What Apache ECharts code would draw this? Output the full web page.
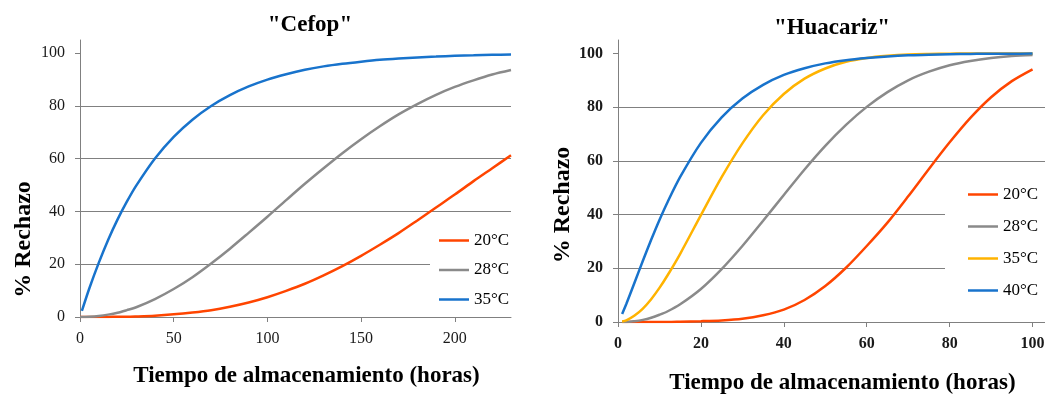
<!DOCTYPE html>
<html lang="es" style="height: 100%">
<head>
  <meta charset="utf-8">
</head>
<body style="height: 100%; margin: 0; background: #fff">
  <div id="container" style="width: 1045px; height: 394px"></div>

  <script type="text/javascript" src="https://cdn.jsdelivr.net/npm/echarts@6/dist/echarts.min.js"></script>
  <script type="text/javascript">
// "Cefop" (hours 0..230)
var cefopHours = [0, 1, 5, 10, 15, 20, 25, 30, 40, 50, 60, 70, 80, 90, 100, 110, 120, 130, 140, 150, 160, 170, 180, 190, 200, 210, 220, 230];
var cefop20 = [0, 0, 0, 0, 0, 0.1, 0.1, 0.2, 0.5, 1.0, 1.7, 2.6, 3.9, 5.5, 7.5, 9.9, 12.6, 15.8, 19.3, 23.2, 27.4, 31.8, 36.6, 41.5, 46.4, 51.5, 56.4, 61.3];
var cefop28 = [0, 0, 0.1, 0.4, 0.9, 1.6, 2.6, 3.7, 6.8, 10.6, 15.1, 20.3, 25.9, 31.9, 38.0, 44.3, 50.5, 56.4, 62.1, 67.4, 72.3, 76.8, 80.7, 84.2, 87.2, 89.7, 91.9, 93.6];
var cefop35 = [null, 2.3, 10.9, 20.5, 29.2, 36.9, 43.7, 49.8, 60.1, 68.3, 74.8, 80.0, 84.1, 87.4, 90.0, 92.0, 93.7, 95.0, 96.0, 96.8, 97.5, 98.0, 98.4, 98.7, 99.0, 99.2, 99.4, 99.5];

// "Huacariz" (hours 1..100)
var huacHours = [1, 2, 4, 6, 8, 10, 12, 15, 20, 25, 30, 35, 40, 45, 50, 55, 60, 65, 70, 75, 80, 85, 90, 95, 100];
var huac20 = [0, 0, 0, 0, 0, 0, 0, 0.1, 0.3, 0.6, 1.2, 2.5, 4.6, 8.2, 13.4, 20.2, 28.3, 37.0, 46.8, 57.0, 66.9, 76.0, 83.7, 89.7, 94.1];
var huac28 = [0, 0, 0.3, 0.8, 1.6, 2.7, 4.0, 6.6, 12.3, 19.7, 28.3, 37.7, 47.3, 56.8, 65.6, 73.4, 80.1, 85.6, 90.0, 93.2, 95.6, 97.2, 98.3, 99.0, 99.4];
var huac35 = [0.2, 0.6, 2.4, 5.0, 8.5, 12.7, 17.5, 25.4, 39.8, 53.9, 66.5, 77.0, 84.9, 90.6, 94.4, 96.9, 98.3, 99.1, 99.6, 99.8, 99.9, 100, 100, 100, 100];
var huac40 = [3.0, 6.7, 14.7, 22.8, 30.6, 38.0, 44.8, 54.0, 66.7, 76.2, 83.2, 88.3, 92.0, 94.5, 96.3, 97.5, 98.3, 98.9, 99.3, 99.5, 99.7, 99.8, 99.9, 99.9, 100];

var yTicks = [0, 20, 40, 60, 80, 100];
var cefopXTicks = [0, 50, 100, 150, 200];
var huacXTicks = [0, 20, 40, 60, 80, 100];

function pairs(xs, ys) {
  var out = [];
  for (var i = 0; i < xs.length; i++) {
    if (ys[i] !== null) out.push([xs[i], ys[i]]);
  }
  return out;
}

var serif = 'Liberation Serif';
var gridGrey = '#808080';

function makeX(gridIndex, max, ticks, bold, gap, margin) {
  return {
    type: 'value', gridIndex: gridIndex, min: 0, max: max,
    name: 'Tiempo de almacenamiento (horas)',
    nameLocation: 'middle', nameGap: gap,
    nameTextStyle: { fontFamily: serif, fontWeight: 'bold', fontSize: 23, color: '#000', padding: [0, 0, 0, 22] },
    axisLine: { lineStyle: { color: gridGrey, width: 1 } },
    axisTick: { show: true, length: 5, customValues: ticks, lineStyle: { color: gridGrey } },
    axisLabel: { customValues: ticks, fontFamily: serif, fontSize: 16, fontWeight: bold ? 'bold' : 'normal', color: '#1a1a1a', margin: margin },
    splitLine: { show: false }
  };
}

function makeY(gridIndex, bold, gap, pad) {
  return {
    type: 'value', gridIndex: gridIndex, min: 0, max: 105,
    name: '% Rechazo',
    nameLocation: 'middle', nameGap: gap, nameRotate: 90,
    nameTextStyle: { fontFamily: serif, fontWeight: 'bold', fontSize: 24, color: '#000', padding: pad },
    axisLine: { show: true, lineStyle: { color: gridGrey, width: 1 } },
    axisTick: { show: true, length: 5, customValues: yTicks, lineStyle: { color: gridGrey } },
    axisLabel: { customValues: yTicks, fontFamily: serif, fontSize: 16, fontWeight: bold ? 'bold' : 'normal', color: '#1a1a1a', margin: 15 },
    splitLine: { show: true, showMaxLine: false, lineStyle: { color: gridGrey, width: 1 } }
  };
}

function curve(name, idx, xs, ys, color) {
  return {
    name: name, type: 'line', xAxisIndex: idx, yAxisIndex: idx,
    data: pairs(xs, ys), symbol: 'none', showSymbol: false, smooth: 0.3,
    lineStyle: { color: color, width: 2.5 }, itemStyle: { color: color }
  };
}

var legendText = { fontFamily: serif, fontSize: 17, color: '#000' };
function stripPrefix(name) { return name.split(' ')[1]; }

var myChart = echarts.init(document.getElementById('container'), null, { renderer: 'canvas' });

var option = {
  backgroundColor: '#fff',
  animation: false,
  title: [
    { text: '"Cefop"', left: 305, top: 9, textAlign: 'center',
      textStyle: { fontFamily: serif, fontWeight: 'bold', fontSize: 23, color: '#000' } },
    { text: '"Huacariz"', left: 827, top: 12, textAlign: 'center',
      textStyle: { fontFamily: serif, fontWeight: 'bold', fontSize: 23, color: '#000' } }
  ],
  grid: [
    { left: 80, top: 40, width: 431, height: 277, outerBoundsMode: 'none' },
    { left: 618, top: 40, width: 427, height: 282, outerBoundsMode: 'none' }
  ],
  xAxis: [
    makeX(0, 230, cefopXTicks, false, 48, 14),
    makeX(1, 103, huacXTicks, true, 50, 14)
  ],
  yAxis: [
    makeY(0, false, 44, [0, 122, 0, 0]),
    makeY(1, true, 41, [0, 48, 0, 0])
  ],
  legend: [
    { orient: 'vertical', left: 430, top: 226, padding: [6, 8, 6, 9],
      backgroundColor: '#fff', icon: 'rect', itemWidth: 30, itemHeight: 2.5, itemGap: 12.5,
      textStyle: legendText, formatter: stripPrefix,
      data: ['Cefop 20°C', 'Cefop 28°C', 'Cefop 35°C'] },
    { orient: 'vertical', left: 945, top: 180, padding: [6, 12, 6, 23],
      backgroundColor: '#fff', icon: 'rect', itemWidth: 30, itemHeight: 2.5, itemGap: 15,
      textStyle: legendText, formatter: stripPrefix,
      data: ['Huacariz 20°C', 'Huacariz 28°C', 'Huacariz 35°C', 'Huacariz 40°C'] }
  ],
  series: [
    curve('Cefop 20°C', 0, cefopHours, cefop20, '#ff4500'),
    curve('Cefop 28°C', 0, cefopHours, cefop28, '#8a8a8a'),
    curve('Cefop 35°C', 0, cefopHours, cefop35, '#1873cc'),
    curve('Huacariz 20°C', 1, huacHours, huac20, '#ff4500'),
    curve('Huacariz 28°C', 1, huacHours, huac28, '#8a8a8a'),
    curve('Huacariz 35°C', 1, huacHours, huac35, '#ffb300'),
    curve('Huacariz 40°C', 1, huacHours, huac40, '#1873cc')
  ]
};

myChart.setOption(option);
window.addEventListener('resize', myChart.resize);
  </script>
</body>
</html>
